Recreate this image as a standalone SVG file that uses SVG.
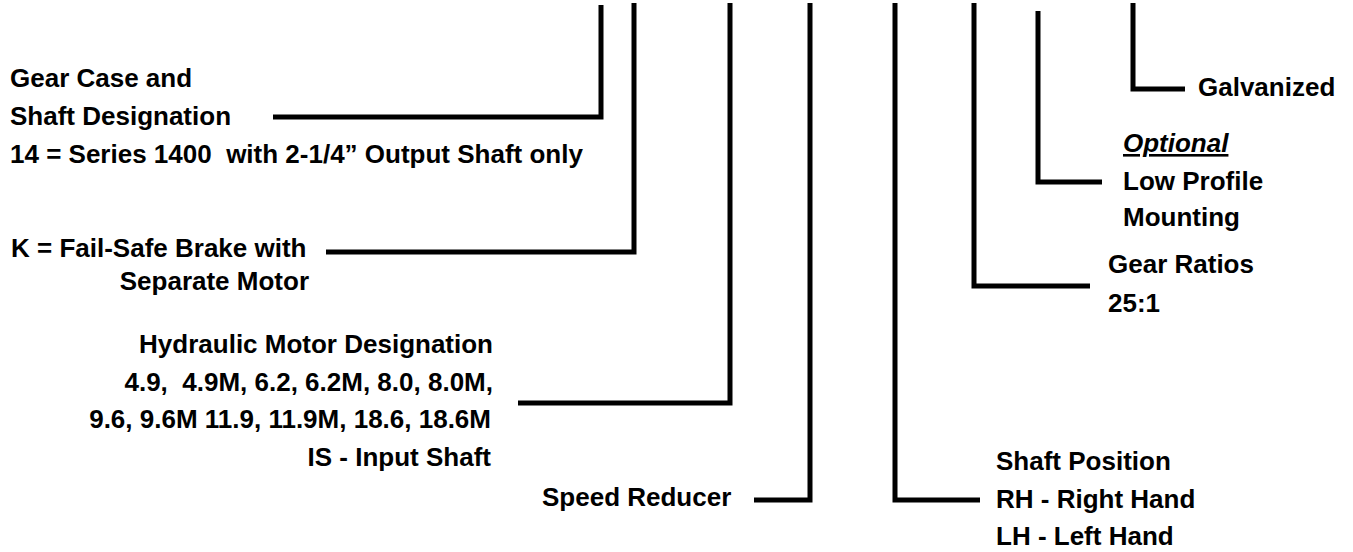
<svg xmlns="http://www.w3.org/2000/svg" width="1353" height="552" viewBox="0 0 1353 552">
<style>
text{font-family:"Liberation Sans",Arial,sans-serif;font-weight:bold;font-size:26px;fill:#000;white-space:pre}
.r{text-anchor:end}
.opt{font-style:italic;text-decoration:underline}
.ln{fill:none;stroke:#000;stroke-width:5;stroke-linejoin:miter;stroke-linecap:butt}
</style>
<rect width="1353" height="552" fill="#fff"/>
<g id="connectors">
<polyline class="ln" points="601,5 601,117 273,117"/>
<polyline class="ln" points="634,3 634,252 326,252"/>
<polyline class="ln" points="730,3 730,403 518,403"/>
<polyline class="ln" points="810,3 810,500 754,500"/>
<polyline class="ln" points="895,3 895,500 980,500"/>
<polyline class="ln" points="974,3 974,286 1090,286"/>
<polyline class="ln" points="1038,11 1038,182 1102,182"/>
<polyline class="ln" points="1133,3 1133,89 1185,89"/>
</g>
<g id="gear-case">
<text x="10" y="87">Gear Case and</text>
<text x="10" y="125">Shaft Designation</text>
<text x="10" y="163">14 = Series 1400  with 2-1/4” Output Shaft only</text>
</g>
<g id="brake">
<text x="11" y="257">K = Fail-Safe Brake with</text>
<text class="r" x="309" y="290">Separate Motor</text>
</g>
<g id="hydraulic-motor">
<text class="r" x="493" y="353">Hydraulic Motor Designation</text>
<text class="r" x="493" y="391">4.9,  4.9M, 6.2, 6.2M, 8.0, 8.0M,</text>
<text class="r" x="491" y="428">9.6, 9.6M 11.9, 11.9M, 18.6, 18.6M</text>
<text class="r" x="491" y="466">IS - Input Shaft</text>
</g>
<g id="speed-reducer">
<text x="542" y="506">Speed Reducer</text>
</g>
<g id="shaft-position">
<text x="996" y="470">Shaft Position</text>
<text x="996" y="508">RH - Right Hand</text>
<text x="996" y="545">LH - Left Hand</text>
</g>
<g id="gear-ratios">
<text x="1108" y="273">Gear Ratios</text>
<text x="1108" y="312">25:1</text>
</g>
<g id="low-profile">
<text class="opt" x="1123" y="152">Optional</text>
<text x="1123" y="190">Low Profile</text>
<text x="1123" y="226">Mounting</text>
</g>
<g id="galvanized">
<text x="1198" y="96">Galvanized</text>
</g>
</svg>
